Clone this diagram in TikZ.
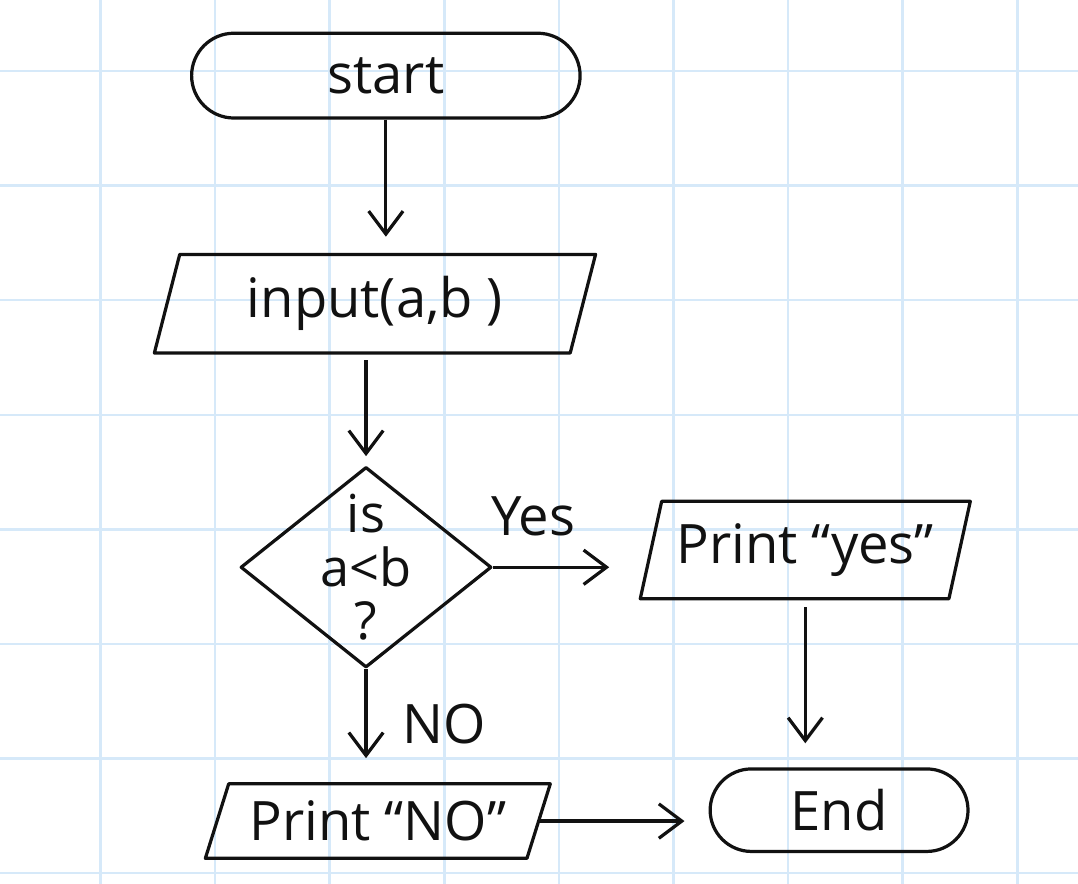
\documentclass[tikz,border=0pt]{standalone}
\usepackage{fontspec}
\setmainfont{Open Sans}
\usepackage{xcolor}
\usetikzlibrary{shapes.geometric,shapes.misc,arrows.meta}
\definecolor{PaperGrid}{HTML}{D6E9F9}
\definecolor{Ink}{HTML}{111111}

\begin{document}
\begin{tikzpicture}[
		ink/.style={draw=Ink, line width=0.8pt, line join=round, text=Ink, font=\fontsize{13.5}{16}\selectfont},
		terminal/.style={ink, rounded rectangle, inner sep=0pt},
		io/.style={ink, trapezium, trapezium left angle=65, trapezium right angle=115, trapezium stretches body, inner sep=0pt},
		decision/.style={ink, diamond, aspect=1.25, inner sep=-1.2mm, align=center, font=\fontsize{13}{13.2}\selectfont},
		tag/.style={text=Ink, font=\fontsize{13.5}{16}\selectfont},
		flow/.style={draw=Ink, line width=0.8pt, -{Straight Barb[length=2mm,width=3mm]}, shorten >=2.1mm}
	]
		% Paper
		\useasboundingbox (-0.877,-7.094) rectangle (8.530,0.620);
		\fill[white] (-0.877,-7.094) rectangle (8.530,0.620);
		\draw[step=1cm, PaperGrid, line width=0.6pt] (-0.877,-7.094) grid (8.530,0.620);
		
		% Boxes
		\node[terminal, minimum width=3.39cm, minimum height=0.74cm] (start) at (2.49,-0.04) {start};
		\node[io, minimum width=3.85cm, minimum height=0.86cm] (input) at (2.395,-2.03) {input(a,b )};
		\node[decision, minimum width=2.19cm, minimum height=1.75cm] (test) at (2.317,-4.33) {is\\a<b\\?};
		\node[io, trapezium left angle=68, trapezium right angle=112, minimum width=2.88cm, minimum height=0.85cm] (yes) at (6.15,-4.18) {Print “yes”};
		\node[io, trapezium left angle=60, trapezium right angle=120, minimum width=3.01cm, minimum height=0.65cm] (no) at (2.42,-6.545) {Print “NO”};
		\node[terminal, minimum width=2.25cm, minimum height=0.72cm] (end) at (6.445,-6.45) {End};
		
		% Labels
		\node[tag] (yeslabel) at (3.775,-3.89) {Yes};
		\node[tag] (nolabel) at (3.0,-5.70) {NO};
		
		% Arrows
		\draw[flow, shorten >=1.4mm] (start.south) -- (start.south |- input.north);
		\draw[flow, shorten >=0.8mm] ([yshift=-0.5mm]input.south -| test.north) -- (test.north);
		\draw[flow, shorten >=3.5mm] (test.east) -- (test.east -| yes.west);
		\draw[flow] ([yshift=-0.6mm]yes.south) -- (yes.south |- end.north);
		\draw[flow] (test.south) -- (test.south |- no.north);
		\draw[flow] (no.east) -- (no.east -| end.west);
	\end{tikzpicture}
\end{document}
